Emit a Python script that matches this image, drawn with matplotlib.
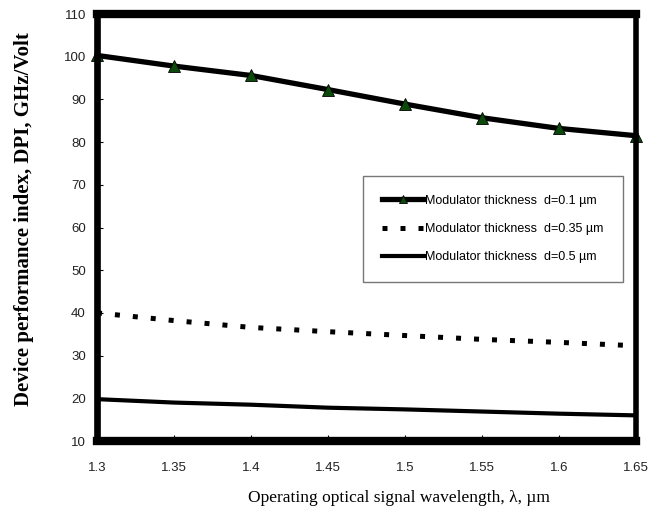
import matplotlib.pyplot as plt

wavelength = [1.3, 1.35, 1.4, 1.45, 1.5, 1.55, 1.6, 1.65]
dpi_d01 = [100.3, 97.8, 95.6, 92.3, 88.9, 85.7, 83.2, 81.5]
dpi_d035 = [40.0, 38.2, 36.6, 35.6, 34.7, 33.8, 33.1, 32.3]
dpi_d05 = [19.8, 19.0, 18.5, 17.8, 17.4, 16.9, 16.4, 16.0]

labels = ["Modulator thickness  d=0.1 µm",
          "Modulator thickness  d=0.35 µm",
          "Modulator thickness  d=0.5 µm"]

narrow = ["Liberation Sans Narrow", "Liberation Sans", "DejaVu Sans"]

fig = plt.figure(figsize=(6.59, 5.21), dpi=100)
ax = fig.add_axes([97 / 659, 80 / 521, 539 / 659, 427 / 521])

ax.plot(wavelength, dpi_d01, color="black", lw=3.8, marker="^", ms=8,
        mfc="#0b4a0b", mec="black", mew=0.6, label=labels[0], clip_on=False)
ax.plot(wavelength, dpi_d035, color="black", lw=3.6, ls=(0, (1, 2.6)),
        dash_capstyle="butt", label=labels[1])
ax.plot(wavelength, dpi_d05, color="black", lw=3.0, label=labels[2])

ax.set_xlim(1.3, 1.65)
ax.set_ylim(10, 110)
ax.set_xticks(wavelength)
ax.set_xticklabels(["1.3", "1.35", "1.4", "1.45", "1.5", "1.55", "1.6", "1.65"])
ax.set_yticks(range(10, 111, 10))

# heavy frame, top and bottom a bit thicker than the sides
for side, w in {"top": 6.0, "bottom": 6.0, "left": 4.8, "right": 4.0}.items():
    ax.spines[side].set_linewidth(w)

ax.tick_params(direction="in", length=4, width=0.8)
ax.tick_params(axis="x", pad=15)
ax.tick_params(axis="y", pad=8)
for t in ax.get_xticklabels() + ax.get_yticklabels():
    t.set_family(narrow)
    t.set_fontsize(9.5)
    t.set_color("#222222")

ax.set_xlabel("Operating optical signal wavelength, λ, µm",
              family="Liberation Serif", fontsize=12.5)
ax.xaxis.set_label_coords(0.56, -0.115)
ax.set_ylabel("Device performance index, DPI, GHz/Volt",
              family="Liberation Serif", fontsize=15, fontweight="bold")
ax.yaxis.set_label_coords(-0.116, 0.52)

leg = ax.legend(loc="upper left", bbox_to_anchor=(0.4935, 0.6206),
                borderaxespad=0,
                prop={"family": narrow, "size": 9}, frameon=True,
                fancybox=False, edgecolor="#555555", handlelength=3.4,
                handletextpad=0.1, borderpad=1.5, labelspacing=1.3,
                markerscale=0.8)
leg.get_frame().set_linewidth(1.0)

plt.savefig("out.png", dpi=100)
